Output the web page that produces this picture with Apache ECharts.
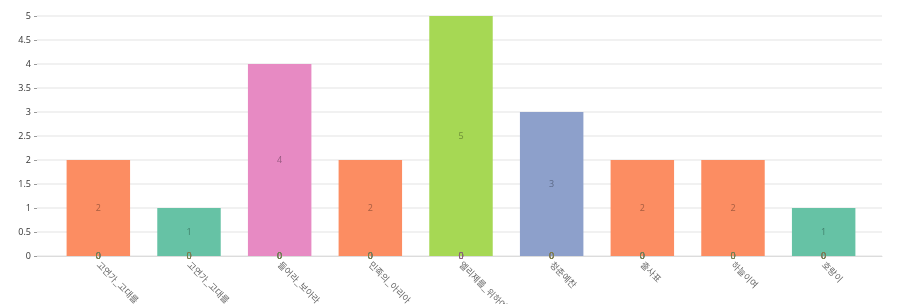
<!DOCTYPE html>
<html><head><meta charset="utf-8">
<script src="https://cdn.jsdelivr.net/npm/echarts@6/dist/echarts.min.js"></script>
<style>html,body{margin:0;padding:0;background:#fff}#c{width:902px;height:304px}</style>
</head><body><div id="c"></div>
<script>
const categories = ['고연가_고대를','고연가_고대를','들어라_보아라','민족의_아리아','엘리제를_위하여','청춘예찬','출사표','하늘이여','호랑이'];
const seriesOne   = [0,1,0,0,0,0,0,0,1];
const seriesTwo   = [2,0,0,2,0,0,2,2,0];
const seriesThree = [0,0,0,0,0,3,0,0,0];
const seriesFour  = [0,0,4,0,0,0,0,0,0];
const seriesFive  = [0,0,0,0,5,0,0,0,0];
const seriesNames = ['1','2','3','4','5'];

const barColors = ['#66c2a5','#fc8d62','#8da0cb','#e78ac3','#a6d854'];
const labelColors = ['#3f7f6b','#a65c40','#5c6a88','#985a80','#6e8f37'];
const allData = [seriesOne, seriesTwo, seriesThree, seriesFour, seriesFive];

const chart = echarts.init(document.getElementById('c'));
chart.setOption({
  animation: false,
  grid: [
    {left: 37, right: 20, top: 16, bottom: 48, outerBoundsMode: 'none', containLabel: false},
    {left: 53, right: 33, top: 16, bottom: 48, outerBoundsMode: 'none', containLabel: false}
  ],
  xAxis: [
    {gridIndex: 0, type: 'value', min: 0, max: 1, axisLine: {show: true, onZero: false, lineStyle: {color: '#dcdcdc'}},
     axisTick: {show: false}, axisLabel: {show: false}, splitLine: {show: false}},
    {gridIndex: 1, type: 'category', data: categories,
     axisLine: {show: false}, axisTick: {show: false},
     axisLabel: {rotate: -45, interval: 0, margin: 7, fontSize: 9, color: '#666',
       fontFamily: 'Noto Sans CJK KR'}}
  ],
  yAxis: [
    {gridIndex: 0, type: 'value', min: 0, max: 5, interval: 0.5,
     axisLine: {show: false},
     axisTick: {show: true, length: 3, lineStyle: {color: '#999'}},
     axisLabel: {margin: 6, fontSize: 9, color: '#333', fontFamily: 'Open Sans',
       formatter: v => String(v)},
     splitLine: {lineStyle: {color: '#ececec', width: 1.5}}},
    {gridIndex: 1, type: 'value', min: 0, max: 5, interval: 0.5, show: false}
  ],
  series: allData.map((d, i) => ({
    name: seriesNames[i], type: 'bar', xAxisIndex: 1, yAxisIndex: 1,
    data: d, barWidth: '70%', barGap: '-100%',
    itemStyle: {color: barColors[i]},
    label: {show: true, position: 'inside', fontSize: 9, color: labelColors[i], fontFamily: 'Open Sans'}
  }))
});
</script></body></html>
